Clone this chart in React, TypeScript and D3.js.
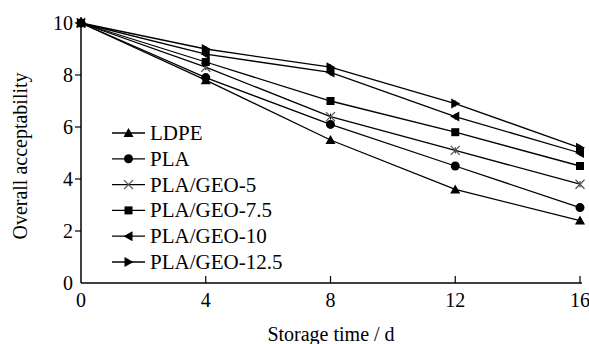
import { useEffect, useRef } from "react";
import * as d3 from "d3";

const days = [0, 4, 8, 12, 16];
const seriesNames = ["LDPE", "PLA", "PLA/GEO-5", "PLA/GEO-7.5", "PLA/GEO-10", "PLA/GEO-12.5"];
const ldpe = [10, 7.8, 5.5, 3.6, 2.4];
const pla = [10, 7.9, 6.1, 4.5, 2.9];
const geo5 = [10, 8.3, 6.4, 5.1, 3.8];
const geo75 = [10, 8.5, 7.0, 5.8, 4.5];
const geo10 = [10, 8.8, 8.1, 6.4, 5.0];
const geo125 = [10, 9.0, 8.3, 6.9, 5.2];
const xTicks = [0, 4, 8, 12, 16];
const yTicks = [0, 2, 4, 6, 8, 10];

const allSeries = [ldpe, pla, geo5, geo75, geo10, geo125];
const markers = ["triUp", "circle", "cross", "square", "triLeft", "triRight"];

const W = 589;
const H = 344;
const FONT = "'Liberation Serif', 'Times New Roman', serif";

function drawMarker(g: d3.Selection<SVGGElement, unknown, null, undefined>, kind: string, x: number, y: number) {
  const s = 4.5;
  if (kind === "circle") {
    g.append("circle").attr("cx", x).attr("cy", y).attr("r", s).attr("fill", "#000");
  } else if (kind === "square") {
    g.append("rect").attr("x", x - 4).attr("y", y - 4).attr("width", 8).attr("height", 8).attr("fill", "#000");
  } else if (kind === "cross") {
    g.append("path")
      .attr("d", `M${x - s},${y - s}L${x + s},${y + s}M${x - s},${y + s}L${x + s},${y - s}`)
      .attr("stroke", "#4a5a4a").attr("stroke-width", 1.3).attr("fill", "none");
  } else {
    let pts: [number, number][];
    if (kind === "triUp") pts = [[x, y - 5], [x + 5, y + 4], [x - 5, y + 4]];
    else if (kind === "triLeft") pts = [[x - 5, y], [x + 4, y - 5], [x + 4, y + 5]];
    else pts = [[x + 5, y], [x - 4, y - 5], [x - 4, y + 5]];
    g.append("path").attr("d", "M" + pts.join("L") + "Z").attr("fill", "#000");
  }
}

export default function App() {
  const ref = useRef<SVGSVGElement | null>(null);

  useEffect(() => {
    const svg = d3.select(ref.current);
    svg.selectAll("*").remove();

    const x = d3.scaleLinear().domain([0, 16]).range([81, 580]);
    const y = d3.scaleLinear().domain([0, 10]).range([283, 23]);

    const root = svg.append("g");

    // axes lines
    root.append("line").attr("x1", 81).attr("x2", 81).attr("y1", 17).attr("y2", 283)
      .attr("stroke", "#000").attr("stroke-width", 1.5);
    root.append("line").attr("x1", 81).attr("x2", 582).attr("y1", 283).attr("y2", 283)
      .attr("stroke", "#000").attr("stroke-width", 1.5);

    // y ticks (outward)
    yTicks.forEach((t) => {
      if (t !== 0) {
        root.append("line").attr("x1", 75).attr("x2", 81).attr("y1", y(t)).attr("y2", y(t))
          .attr("stroke", "#000").attr("stroke-width", 1.2);
      }
      root.append("text").attr("x", 73).attr("y", y(t) + 7)
        .attr("text-anchor", "end").attr("font-family", FONT).attr("font-size", 20).text(t);
    });

    // x ticks (inward)
    xTicks.forEach((t) => {
      if (t !== 0) {
        root.append("line").attr("x1", x(t)).attr("x2", x(t)).attr("y1", 283).attr("y2", 276)
          .attr("stroke", "#000").attr("stroke-width", 1.2);
      }
      root.append("text").attr("x", x(t)).attr("y", 307)
        .attr("text-anchor", "middle").attr("font-family", FONT).attr("font-size", 20).text(t);
    });

    // axis titles
    root.append("text").attr("transform", "translate(27,156) rotate(-90)")
      .attr("text-anchor", "middle").attr("font-family", FONT).attr("font-size", 20)
      .text("Overall acceptability");
    root.append("text").attr("x", 331).attr("y", 341)
      .attr("text-anchor", "middle").attr("font-family", FONT).attr("font-size", 20)
      .text("Storage time / d");

    const line = d3.line<number>().x((_, i) => x(days[i])).y((d) => y(d));

    allSeries.forEach((vals, si) => {
      const g = root.append("g");
      g.append("path").attr("d", line(vals)).attr("fill", "none")
        .attr("stroke", "#000").attr("stroke-width", 1.3);
      vals.forEach((v, i) => {
        if (i > 0) {
          g.append("line").attr("x1", x(days[i])).attr("x2", x(days[i]))
            .attr("y1", y(v) - 3).attr("y2", y(v) + 3).attr("stroke", "#000").attr("stroke-width", 1);
        }
        drawMarker(g, markers[si], x(days[i]), y(v));
      });
    });

    // legend
    const legend = root.append("g");
    seriesNames.forEach((name, i) => {
      const ly = 133 + i * 25.8;
      legend.append("line").attr("x1", 112).attr("x2", 145).attr("y1", ly).attr("y2", ly)
        .attr("stroke", "#000").attr("stroke-width", 1.3);
      drawMarker(legend, markers[i], 128.5, ly);
      legend.append("text").attr("x", 150).attr("y", ly + 7)
        .attr("font-family", FONT).attr("font-size", 21).text(name);
    });
  }, []);

  return (
    <svg ref={ref} width={W} height={H}
      style={{ position: "absolute", left: 0, top: 0, background: "#fff" }} />
  );
}
